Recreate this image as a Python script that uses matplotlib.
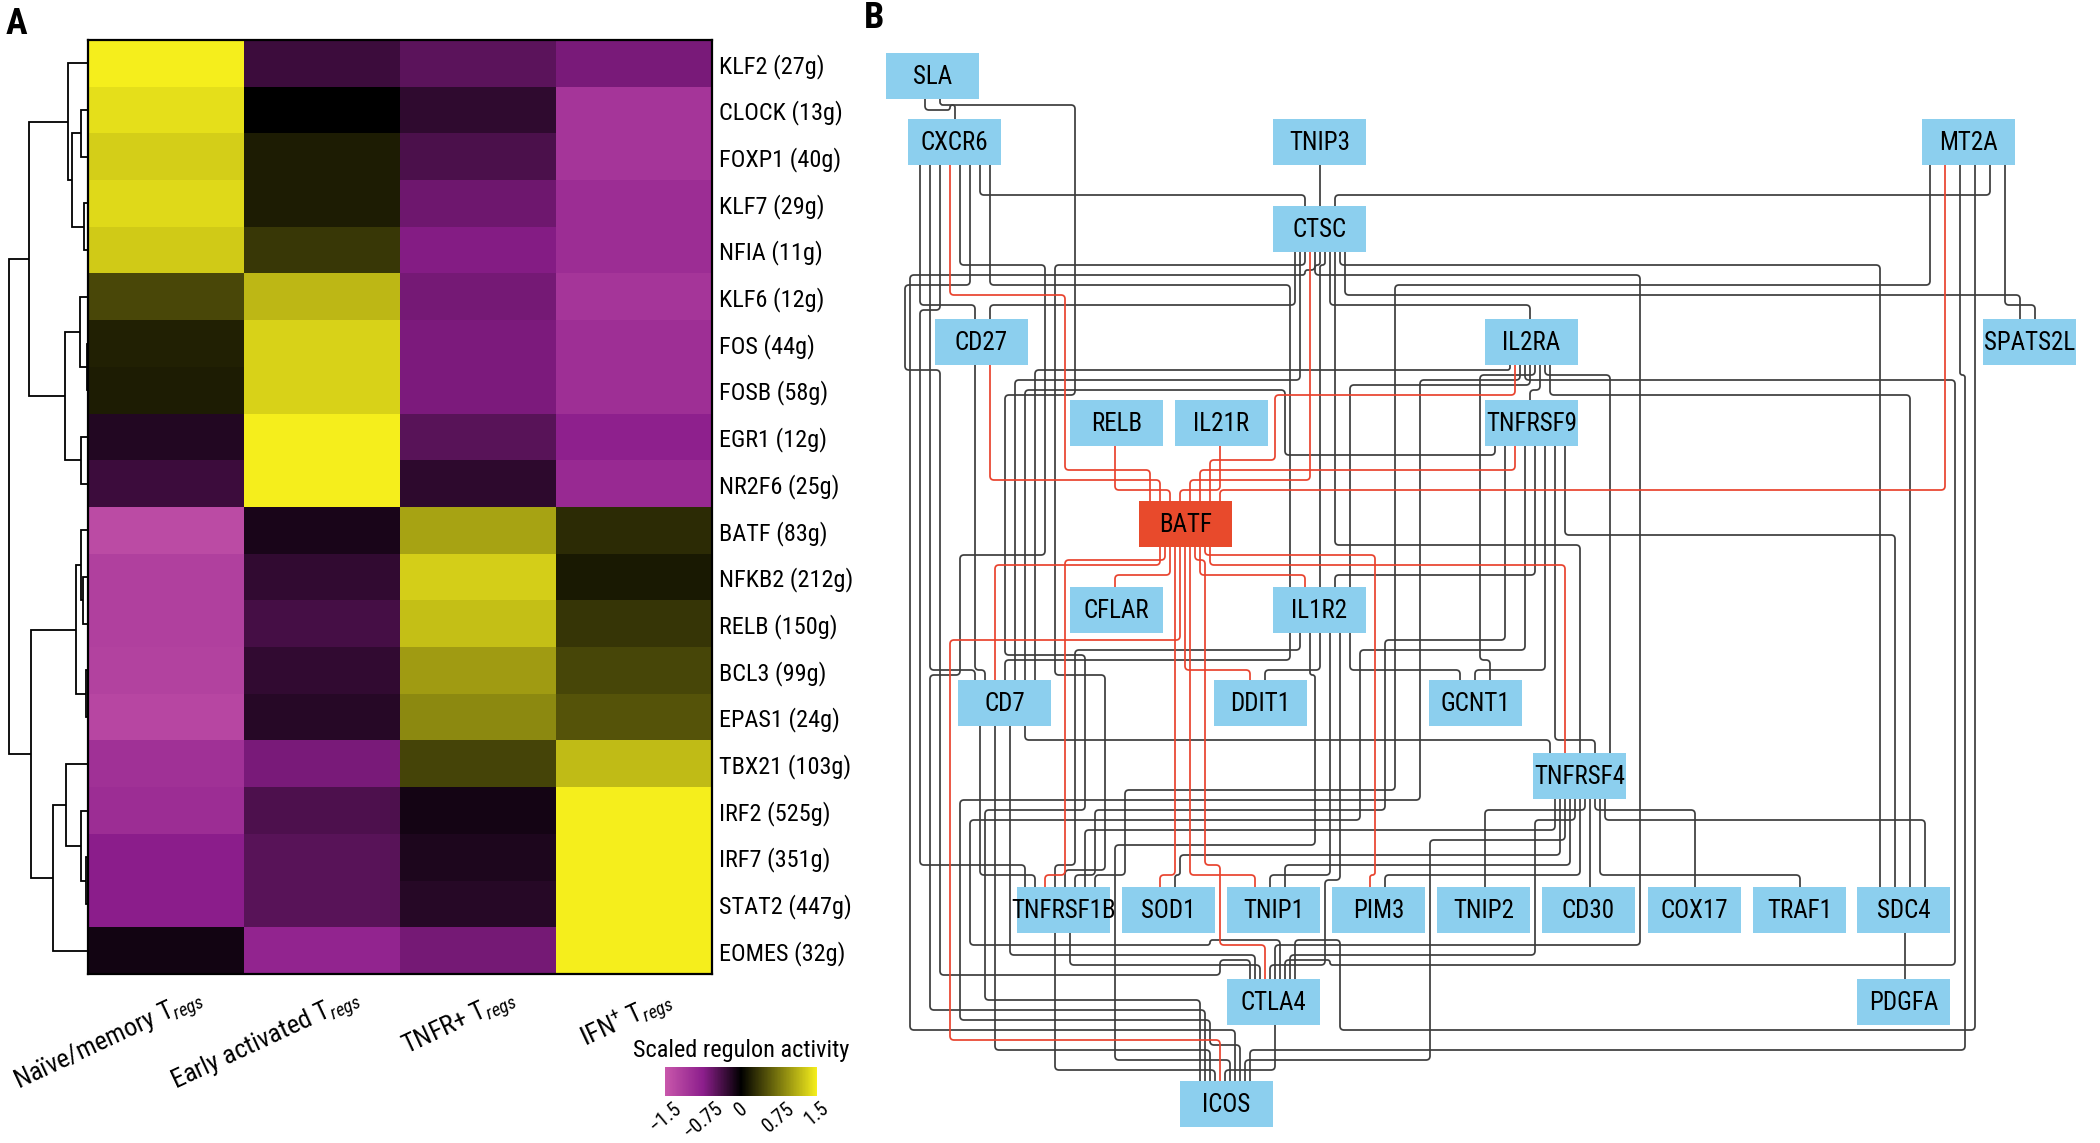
import heapq
import numpy as np
import matplotlib
matplotlib.use("Agg")
import matplotlib.pyplot as plt
from matplotlib import font_manager as fm
from matplotlib.colors import LinearSegmentedColormap
from matplotlib.path import Path
from matplotlib.patches import PathPatch, Rectangle

# ------------------------------------------------------------------ data
regulons = ["KLF2 (27g)", "CLOCK (13g)", "FOXP1 (40g)", "KLF7 (29g)", "NFIA (11g)",
            "KLF6 (12g)", "FOS (44g)", "FOSB (58g)", "EGR1 (12g)", "NR2F6 (25g)",
            "BATF (83g)", "NFKB2 (212g)", "RELB (150g)", "BCL3 (99g)", "EPAS1 (24g)",
            "TBX21 (103g)", "IRF2 (525g)", "IRF7 (351g)", "STAT2 (447g)", "EOMES (32g)"]
cell_types = [r"Naïve/memory T$_{regs}$", r"Early activated T$_{regs}$",
              r"TNFR+ T$_{regs}$", r"IFN$^{+}$ T$_{regs}$"]
naive = [1.50, 1.40, 1.30, 1.37, 1.27, 0.45, 0.21, 0.18, -0.18, -0.32,
         -1.34, -1.20, -1.20, -1.23, -1.28, -1.00, -0.95, -0.75, -0.75, -0.10]
early = [-0.32, 0.00, 0.18, 0.18, 0.35, 1.15, 1.32, 1.32, 1.50, 1.50,
         -0.13, -0.26, -0.37, -0.26, -0.21, -0.65, -0.42, -0.48, -0.48, -0.83]
tnfr = [-0.49, -0.25, -0.40, -0.59, -0.71, -0.63, -0.66, -0.66, -0.48, -0.24,
        1.02, 1.29, 1.20, 0.98, 0.86, 0.43, -0.11, -0.16, -0.21, -0.63]
ifn = [-0.65, -1.06, -1.06, -0.95, -0.95, -1.06, -0.98, -0.98, -0.78, -0.90,
       0.28, 0.16, 0.33, 0.44, 0.52, 1.18, 1.50, 1.50, 1.50, 1.50]

# hierarchical clustering of the rows: (child a, child b, merge height); leaves 0..19
merges = [(1, 2, 7.3), (3, 4, 4.3), (20, 21, 15.7), (0, 22, 20.0),
          (6, 7, 1.0), (5, 24, 8.3), (8, 9, 6.7), (25, 26, 23.3), (23, 27, 59.0),
          (11, 12, 5.0), (10, 29, 6.7), (13, 14, 2.3), (30, 31, 12.3),
          (17, 18, 2.3), (16, 33, 6.7), (15, 34, 21.7), (35, 19, 35.0),
          (32, 36, 56.7), (28, 37, 79.0)]

cbar_ticks = [-1.5, -0.75, 0, 0.75, 1.5]
cbar_ticklabels = ["\u22121.5", "\u22120.75", "0", "0.75", "1.5"]

# network
genes = ["SLA", "CXCR6", "TNIP3", "MT2A", "CTSC", "CD27", "IL2RA", "SPATS2L",
         "RELB", "IL21R", "TNFRSF9", "BATF", "CFLAR", "IL1R2", "CD7", "DDIT1",
         "GCNT1", "TNFRSF4", "TNFRSF1B", "SOD1", "TNIP1", "PIM3", "TNIP2", "CD30",
         "COX17", "TRAF1", "SDC4", "CTLA4", "PDGFA", "ICOS"]
hub = "BATF"
batf_targets = ["RELB", "IL21R", "CD27", "CXCR6", "CTSC", "IL2RA", "MT2A", "TNFRSF9",
                "CFLAR", "IL1R2", "CD7", "DDIT1", "TNFRSF4", "SOD1", "TNIP1", "PIM3",
                "CTLA4", "ICOS", "TNFRSF1B"]
other_edges = [
    ("SLA", "CXCR6"), ("SLA", "ICOS"),
    ("CXCR6", "CTSC"), ("CXCR6", "CD27"), ("CXCR6", "CD7"), ("CXCR6", "TNFRSF1B"),
    ("CXCR6", "ICOS"), ("CXCR6", "IL1R2"), ("CXCR6", "CTLA4"),
    ("TNIP3", "CTSC"),
    ("MT2A", "CTSC"), ("MT2A", "SPATS2L"), ("MT2A", "ICOS"), ("MT2A", "TNFRSF1B"),
    ("MT2A", "CTLA4"),
    ("CTSC", "CD27"), ("CTSC", "IL2RA"), ("CTSC", "SPATS2L"), ("CTSC", "CD7"),
    ("CTSC", "TNFRSF1B"), ("CTSC", "ICOS"), ("CTSC", "TNFRSF4"), ("CTSC", "SDC4"),
    ("CTSC", "CTLA4"), ("CTSC", "IL1R2"),
    ("CD27", "CD7"),
    ("IL2RA", "TNFRSF9"), ("IL2RA", "IL1R2"), ("IL2RA", "GCNT1"), ("IL2RA", "TNFRSF4"),
    ("IL2RA", "CTLA4"), ("IL2RA", "ICOS"), ("IL2RA", "CD7"), ("IL2RA", "SDC4"),
    ("TNFRSF9", "TNFRSF4"), ("TNFRSF9", "CD7"), ("TNFRSF9", "TNFRSF1B"),
    ("TNFRSF9", "CTLA4"), ("TNFRSF9", "SDC4"), ("TNFRSF9", "GCNT1"), ("TNFRSF9", "IL1R2"),
    ("IL1R2", "DDIT1"), ("IL1R2", "GCNT1"), ("IL1R2", "CD7"), ("IL1R2", "CTLA4"),
    ("IL1R2", "ICOS"), ("IL1R2", "TNIP1"), ("IL1R2", "TNFRSF1B"),
    ("CD7", "TNFRSF1B"), ("CD7", "CTLA4"), ("CD7", "ICOS"), ("CD7", "TNFRSF4"),
    ("TNFRSF4", "TNIP2"), ("TNFRSF4", "CD30"), ("TNFRSF4", "COX17"), ("TNFRSF4", "TRAF1"),
    ("TNFRSF4", "SDC4"), ("TNFRSF4", "CTLA4"), ("TNFRSF4", "ICOS"), ("TNFRSF4", "PIM3"),
    ("TNFRSF4", "TNFRSF1B"), ("TNFRSF4", "SOD1"), ("TNFRSF4", "TNIP1"),
    ("TNFRSF1B", "CTLA4"), ("TNFRSF1B", "ICOS"),
    ("SDC4", "PDGFA"),
    ("CTLA4", "ICOS"),
]

# ------------------------------------------------------------------ layout (pixels)
FW, FH = 2100, 1143
BW, BH = 93, 46
node_xy = {  # top-left corner of each node box
    "SLA": (886, 53), "CXCR6": (908, 119), "TNIP3": (1273, 119), "MT2A": (1922, 119),
    "CTSC": (1273, 206), "CD27": (935, 319), "IL2RA": (1485, 319), "SPATS2L": (1983, 319),
    "RELB": (1070, 400), "IL21R": (1175, 400), "TNFRSF9": (1485, 400), "BATF": (1139, 501),
    "CFLAR": (1070, 587), "IL1R2": (1273, 587), "CD7": (958, 680), "DDIT1": (1214, 680),
    "GCNT1": (1429, 680), "TNFRSF4": (1533, 753), "TNFRSF1B": (1017, 887),
    "SOD1": (1122, 887), "TNIP1": (1227, 887), "PIM3": (1332, 887), "TNIP2": (1437, 887),
    "CD30": (1542, 887), "COX17": (1648, 887), "TRAF1": (1753, 887), "SDC4": (1857, 887),
    "CTLA4": (1227, 979), "PDGFA": (1857, 979), "ICOS": (1180, 1081),
}

# ------------------------------------------------------------------ fonts
names = {f.name for f in fm.fontManager.ttflist}
FONT, STRETCH = None, "normal"
for cand in ["Liberation Sans Narrow", "Roboto Condensed", "Open Sans Condensed",
             "Noto Sans Condensed", "DejaVu Sans Condensed"]:
    if cand in names:
        FONT = cand
        break
if FONT is None:
    for f in fm.fontManager.ttflist:
        if str(f.stretch) in ("condensed", "semi-condensed") and f.name in (
                "Noto Sans", "Open Sans", "Roboto", "DejaVu Sans"):
            FONT, STRETCH = f.name, str(f.stretch)
            break
if FONT is None:
    FONT = "Liberation Sans"
plt.rcParams["font.family"] = [FONT, "DejaVu Sans"]
plt.rcParams["font.stretch"] = STRETCH
plt.rcParams["mathtext.fontset"] = "custom"
plt.rcParams["mathtext.rm"] = FONT
plt.rcParams["mathtext.it"] = FONT + ":italic"
plt.rcParams["mathtext.bf"] = FONT + ":bold"

fig = plt.figure(figsize=(FW / 100, FH / 100), dpi=100)


def fx(px):
    return px / FW


def fy(py):
    return 1 - py / FH


# ------------------------------------------------------------------ panel A
HX0, HX1, HY0, HY1 = 88, 712, 40, 974
cmap = LinearSegmentedColormap.from_list(
    "mby", [(0.0, "#c857ab"), (0.25, "#8c1e8c"), (0.5, "#000000"),
            (0.75, "#7a770e"), (1.0, "#f5ee1c")])
M = np.column_stack([naive, early, tnfr, ifn])
axH = fig.add_axes([fx(HX0), fy(HY1), fx(HX1 - HX0), (HY1 - HY0) / FH])
im = axH.imshow(M, cmap=cmap, vmin=-1.5, vmax=1.5, aspect="auto", interpolation="nearest")
for s in axH.spines.values():
    s.set_linewidth(1.6)
    s.set_color("black")
axH.set_xticks([])
axH.yaxis.tick_right()
axH.set_yticks(range(len(regulons)))
axH.set_yticklabels(regulons, fontsize=17.5)
axH.tick_params(axis="y", length=0, pad=5)
row_h = (HY1 - HY0) / len(regulons)
col_w = (HX1 - HX0) / len(cell_types)
for j, lab in enumerate(cell_types):
    axH.text(j + 30 / col_w, len(regulons) - 0.5 + 10 / row_h, lab, rotation=25,
             ha="right", va="top", rotation_mode="anchor", fontsize=19)

axD = fig.add_axes([0, fy(HY1), fx(HX0), (HY1 - HY0) / FH])
axD.set_xlim(HX0, 0)
axD.set_ylim(len(regulons) - 0.5, -0.5)
axD.axis("off")
pos = {i: (0.0, float(i)) for i in range(len(regulons))}
for k, (a, b, h) in enumerate(merges):
    xa, ya = pos[a]
    xb, yb = pos[b]
    axD.plot([xa, h, h, xb], [ya, ya, yb, yb], color="black", lw=1.3,
             solid_joinstyle="miter", solid_capstyle="butt")
    pos[len(regulons) + k] = (h, (ya + yb) / 2)

cax = fig.add_axes([fx(665), fy(1096), fx(152), 29 / FH])
cb = fig.colorbar(im, cax=cax, orientation="horizontal")
cb.set_ticks(cbar_ticks)
cb.set_ticklabels(cbar_ticklabels)
cb.outline.set_visible(False)
cax.tick_params(length=0, pad=2, labelsize=14.5)
for t in cax.get_xticklabels():
    t.set_rotation(40)
    t.set_ha("center")
cax.set_title("Scaled regulon activity", fontsize=17.5, pad=7)

fig.text(fx(6), fy(24), "A", fontsize=26, fontweight="bold", va="center", ha="left")
fig.text(fx(864), fy(18), "B", fontsize=26, fontweight="bold", va="center", ha="left")

# ------------------------------------------------------------------ panel B
axN = fig.add_axes([0, 0, 1, 1])
axN.set_xlim(0, FW)
axN.set_ylim(FH, 0)
axN.axis("off")

boxes = {n: (x, y, x + BW, y + BH) for n, (x, y) in node_xy.items()}


def cxn(n):
    return (boxes[n][0] + boxes[n][2]) / 2


def cyn(n):
    return (boxes[n][1] + boxes[n][3]) / 2


edges = [(hub, t, "red") for t in batf_targets] + [(a, b, "black") for a, b in other_edges]
oriented = []
for a, b, c in edges:
    if cyn(a) > cyn(b):
        a, b = b, a
    oriented.append((a, b, c))

G = 5
XMIN, XMAX = 905 // G, 2094 // G
YMIN, YMAX = 44 // G, 1136 // G
NX, NY = XMAX + 3, YMAX + 3
MARG = 4
blocked = [[False] * NX for _ in range(NY)]
for n, (x0, y0, x1, y1) in boxes.items():
    for iy in range(int(np.ceil((y0 - MARG) / G)), int(np.floor((y1 + MARG) / G)) + 1):
        for ix in range(int(np.ceil((x0 - MARG) / G)), int(np.floor((x1 + MARG) / G)) + 1):
            if 0 <= iy < NY and 0 <= ix < NX:
                blocked[iy][ix] = True


def port_cells(n, k):
    x0, _, x1, _ = boxes[n]
    lo = int(np.ceil((x0 + 6) / G))
    hi = int(np.floor((x1 - 6) / G))
    ncell = hi - lo + 1
    if k == 1:
        return [int(round(cxn(n) / G))]
    step = max(1, min(3, (ncell - 1) // (k - 1)))
    span = step * (k - 1)
    start = lo + max(0, (ncell - 1 - span) // 2)
    return [start + i * step for i in range(k)]


out_l, in_l = {}, {}
for i, (u, v, c) in enumerate(oriented):
    out_l.setdefault(u, []).append(i)
    in_l.setdefault(v, []).append(i)
p_out, p_in = {}, {}
for n, lst in out_l.items():
    lst.sort(key=lambda i: (cxn(oriented[i][1]), cyn(oriented[i][1])))
    for i, pc in zip(lst, port_cells(n, len(lst))):
        p_out[i] = pc
for n, lst in in_l.items():
    lst.sort(key=lambda i: (cxn(oriented[i][0]), -cyn(oriented[i][0])))
    for i, pc in zip(lst, port_cells(n, len(lst))):
        p_in[i] = pc

uh = [[0] * NX for _ in range(NY)]
uv = [[0] * NX for _ in range(NY)]
reserved = [[False] * NX for _ in range(NY)]
starts, goals = {}, {}
for i, (u, v, c) in enumerate(oriented):
    sy = int(np.floor((boxes[u][3] + MARG) / G)) + 1
    ty = int(np.ceil((boxes[v][1] - MARG) / G)) - 1
    starts[i] = (p_out[i], sy)
    goals[i] = (p_in[i], ty)
    reserved[sy][p_out[i]] = True
    reserved[ty][p_in[i]] = True

DIRS = [(0, 1), (0, -1), (1, 0), (-1, 0)]
REV = [1, 0, 3, 2]
BEND, OVER, CROSS, ADJ = 10.0, 60.0, 1.0, 1.0


def astar(s, t):
    sx, sy = s
    tx, ty = t
    best = {(sx, sy, 0): 0.0}
    prev = {}
    cnt = 0
    heap = [(abs(tx - sx) + abs(ty - sy), 0.0, cnt, sx, sy, 0)]
    while heap:
        f, ng, _, x, y, d = heapq.heappop(heap)
        gc = -ng
        if gc > best.get((x, y, d), 1e18) + 1e-9:
            continue
        if x == tx and y == ty and d == 0:
            cells = [(x, y)]
            st = (x, y, d)
            while st in prev:
                st = prev[st]
                cells.append((st[0], st[1]))
            return cells[::-1]
        for nd in range(4):
            if nd == REV[d]:
                continue
            dx, dy = DIRS[nd]
            nx, ny = x + dx, y + dy
            if nx < XMIN or nx > XMAX or ny < YMIN or ny > YMAX:
                continue
            isgoal = (nx == tx and ny == ty)
            if isgoal and nd != 0:
                continue
            if blocked[ny][nx] and not isgoal:
                continue
            cost = 1.0 + (BEND if nd != d else 0.0)
            if nd >= 2:
                cost += OVER * uh[ny][nx] + CROSS * uv[ny][nx] + ADJ * (uh[ny - 1][nx] + uh[ny + 1][nx])
            else:
                cost += OVER * uv[ny][nx] + CROSS * uh[ny][nx] + ADJ * (uv[ny][nx - 1] + uv[ny][nx + 1])
            if reserved[ny][nx] and not isgoal:
                cost += OVER
            ngc = gc + cost
            key = (nx, ny, nd)
            if ngc < best.get(key, 1e18) - 1e-9:
                best[key] = ngc
                prev[key] = (x, y, d)
                cnt += 1
                heapq.heappush(heap, (ngc + abs(tx - nx) + abs(ty - ny), -ngc, cnt, nx, ny, nd))
    return None


def simplify(pts):
    out = [pts[0]]
    for k in range(1, len(pts) - 1):
        a, b, c = out[-1], pts[k], pts[k + 1]
        if (a[0] == b[0] == c[0]) or (a[1] == b[1] == c[1]):
            continue
        out.append(b)
    out.append(pts[-1])
    return out


def rounded(pts, r=4.0):
    verts = [pts[0]]
    codes = [Path.MOVETO]
    for k in range(1, len(pts) - 1):
        p0, p1, p2 = (np.array(pts[k - 1], float), np.array(pts[k], float),
                      np.array(pts[k + 1], float))
        d1, d2 = p1 - p0, p2 - p1
        l1, l2 = np.hypot(*d1), np.hypot(*d2)
        if l1 == 0 or l2 == 0:
            continue
        rr = min(r, l1 / 2, l2 / 2)
        a = p1 - d1 / l1 * rr
        b = p1 + d2 / l2 * rr
        verts += [tuple(a), tuple(p1), tuple(b)]
        codes += [Path.LINETO, Path.CURVE3, Path.CURVE3]
    verts.append(pts[-1])
    codes.append(Path.LINETO)
    return Path(verts, codes)


order = sorted(range(len(oriented)),
               key=lambda i: abs(starts[i][0] - goals[i][0]) + abs(starts[i][1] - goals[i][1]))
routes = {}
for i in order:
    s, t = starts[i], goals[i]
    cells = astar(s, t)
    if cells is None:
        cells = [s, (s[0], (s[1] + t[1]) // 2), (t[0], (s[1] + t[1]) // 2), t]
    else:
        for (x0, y0), (x1, y1) in zip(cells[:-1], cells[1:]):
            arr = uh if y0 == y1 else uv
            arr[y0][x0] = 1
            arr[y1][x1] = 1
    u, v, c = oriented[i]
    pts = [(s[0] * G, boxes[u][3])] + [(x * G, y * G) for x, y in cells] + [(t[0] * G, boxes[v][1])]
    routes[i] = simplify(pts)

for i, (u, v, c) in enumerate(oriented):
    col = "#e8432e" if c == "red" else "#3d3d3d"
    axN.add_patch(PathPatch(rounded(routes[i]), fill=False, edgecolor=col, lw=1.25,
                            zorder=3 if c == "red" else 2, capstyle="butt", joinstyle="round"))

for n in genes:
    x0, y0, x1, y1 = boxes[n]
    fc = "#e84a2c" if n == hub else "#8ccfee"
    axN.add_patch(Rectangle((x0, y0), BW, BH, facecolor=fc, edgecolor="none", zorder=5))
    axN.text((x0 + x1) / 2, (y0 + y1) / 2 + 1, n, ha="center", va="center",
             fontsize=18, color="black", zorder=6)

fig.savefig("out.png", dpi=100)
